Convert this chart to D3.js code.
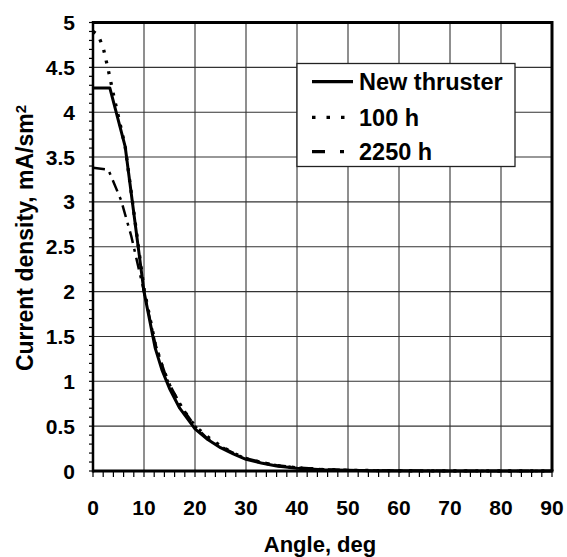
<!DOCTYPE html>
<html>
<head>
<meta charset="utf-8">
<script src="https://cdn.jsdelivr.net/npm/d3@7"></script>
<style>
  html, body { margin: 0; padding: 0; background: #fff; }
  svg { display: block; }
  text { font-family: "Liberation Sans", Arial, sans-serif; font-weight: bold; fill: #000; }
</style>
</head>
<body>
<svg id="chart" width="567" height="557"></svg>
<script>
// ---- data ----
const xTicks = [0, 10, 20, 30, 40, 50, 60, 70, 80, 90];
const yTicks = [0, 0.5, 1, 1.5, 2, 2.5, 3, 3.5, 4, 4.5, 5];
const yTickLabels = ["0", "0.5", "1", "1.5", "2", "2.5", "3", "3.5", "4", "4.5", "5"];

const seriesNames = ["New thruster", "100 h", "2250 h"];

const newAngles = [0, 3.3, 6.3, 10, 12.2, 13.5, 15, 17, 20, 22.5, 25, 27.5, 30, 33, 36, 40, 45, 50, 55, 60, 70, 80, 90];
const newValues = [4.27, 4.27, 3.62, 2.0, 1.37, 1.13, 0.92, 0.70, 0.47, 0.35, 0.26, 0.19, 0.13, 0.09, 0.055, 0.03, 0.015, 0.008, 0.004, 0.002, 0.001, 0, 0];

const h100Angles = [0, 1, 2, 3, 4, 6.3, 10, 12.2, 13.5, 15, 17, 20, 22.5, 25, 27.5, 30, 33, 36, 40, 45, 50, 55, 60, 70, 80, 90];
const h100Values = [4.9, 4.86, 4.72, 4.47, 4.2, 3.62, 2.03, 1.42, 1.18, 0.96, 0.74, 0.50, 0.38, 0.28, 0.2, 0.14, 0.095, 0.06, 0.034, 0.017, 0.009, 0.005, 0.003, 0.001, 0, 0];

const h2250Angles = [0, 3, 5.5, 7.5, 10, 12.2, 14.5, 16, 18, 20, 22.3, 24.5, 26.5, 29.5, 33, 36, 40, 45, 50, 55, 60, 70, 80, 90];
const h2250Values = [3.38, 3.36, 3.02, 2.62, 2.0, 1.42, 1.02, 0.86, 0.66, 0.50, 0.37, 0.29, 0.23, 0.15, 0.10, 0.065, 0.04, 0.02, 0.01, 0.005, 0.003, 0.001, 0, 0];

// ---- layout ----
const svg = d3.select("#chart");
const x = d3.scaleLinear().domain([0, 90]).range([93, 552]);
const y = d3.scaleLinear().domain([0, 5]).range([471, 22.5]);

// grid
const grid = svg.append("g").attr("stroke", "#333").attr("stroke-width", 1.1);
grid.selectAll("line.vx").data(xTicks.slice(1, -1)).enter().append("line")
  .attr("x1", d => x(d)).attr("x2", d => x(d)).attr("y1", y(5)).attr("y2", y(0));
grid.selectAll("line.hy").data(yTicks.slice(1, -1)).enter().append("line")
  .attr("y1", d => y(d)).attr("y2", d => y(d)).attr("x1", x(0)).attr("x2", x(90));

// minor ticks
const xMinor = d3.range(0, 90.001, 2);
svg.append("g").attr("stroke", "#000").attr("stroke-width", 1.2)
  .selectAll("line").data(xMinor).enter().append("line")
  .attr("x1", d => x(d)).attr("x2", d => x(d)).attr("y1", y(0)).attr("y2", y(0) + 6);
const yMinor = d3.range(0, 5.0001, 0.1);
svg.append("g").attr("stroke", "#000").attr("stroke-width", 1.2)
  .selectAll("line").data(yMinor).enter().append("line")
  .attr("y1", d => y(d)).attr("y2", d => y(d)).attr("x1", x(0) - 4).attr("x2", x(0));

// frame
svg.append("line").attr("x1", x(0)).attr("x2", x(90)).attr("y1", y(5)).attr("y2", y(5)).attr("stroke", "#000").attr("stroke-width", 3);
svg.append("line").attr("x1", x(90)).attr("x2", x(90)).attr("y1", y(5) - 1.5).attr("y2", y(0)).attr("stroke", "#000").attr("stroke-width", 3);
svg.append("line").attr("x1", x(0)).attr("x2", x(0)).attr("y1", y(5) - 1.5).attr("y2", y(0) + 1.5).attr("stroke", "#000").attr("stroke-width", 2.5);
svg.append("line").attr("x1", x(0)).attr("x2", x(90) + 1.5).attr("y1", y(0)).attr("y2", y(0)).attr("stroke", "#000").attr("stroke-width", 3);

// tick labels
svg.append("g").selectAll("text").data(xTicks).enter().append("text")
  .attr("x", d => x(d)).attr("y", 515).attr("text-anchor", "middle")
  .style("font-size", "21px").text(d => d);
svg.append("g").selectAll("text").data(yTicks).enter().append("text")
  .attr("x", 75).attr("y", d => y(d)).attr("dy", "0.36em").attr("text-anchor", "end")
  .style("font-size", "21px").text((d, i) => yTickLabels[i]);

// axis titles
svg.append("text").attr("x", 320).attr("y", 552).attr("text-anchor", "middle")
  .style("font-size", "22px").text("Angle, deg");
const yt = svg.append("text").attr("transform", "translate(33,238) rotate(-90)")
  .attr("text-anchor", "middle").style("font-size", "23px");
yt.append("tspan").text("Current density, mA/sm");
yt.append("tspan").attr("dy", "-0.45em").style("font-size", "15px").text("2");

// series
const line = d3.line().x(d => x(d[0])).y(d => y(d[1]));
const styles = [
  { w: 3, dash: null },
  { w: 3.3, dash: "3,8" },
  { w: 2.5, dash: "12,6,3,6" }
];
const series = [
  d3.zip(newAngles, newValues),
  d3.zip(h100Angles, h100Values),
  d3.zip(h2250Angles, h2250Values)
];
series.forEach((s, i) => {
  svg.append("path").datum(s).attr("d", line)
    .attr("fill", "none").attr("stroke", "#000")
    .attr("stroke-width", styles[i].w)
    .attr("stroke-dasharray", styles[i].dash)
    .attr("stroke-linejoin", "round");
});

// legend
const lg = svg.append("g");
lg.append("rect").attr("x", 297).attr("y", 63.5).attr("width", 218).attr("height", 103)
  .attr("fill", "#fff").attr("stroke", "#222").attr("stroke-width", 1.3);
const legendY = [81.7, 117.3, 151.7];
const sampleDash = [null, "3.5,11", "13,15,4,20"];
seriesNames.forEach((n, i) => {
  lg.append("line").attr("x1", 312).attr("x2", 353).attr("y1", legendY[i]).attr("y2", legendY[i])
    .attr("stroke", "#000").attr("stroke-width", 3.3).attr("stroke-dasharray", sampleDash[i]);
  lg.append("text").attr("x", 359).attr("y", legendY[i]).attr("dy", "0.36em")
    .style("font-size", "23.5px").text(n);
});
</script>
</body>
</html>
